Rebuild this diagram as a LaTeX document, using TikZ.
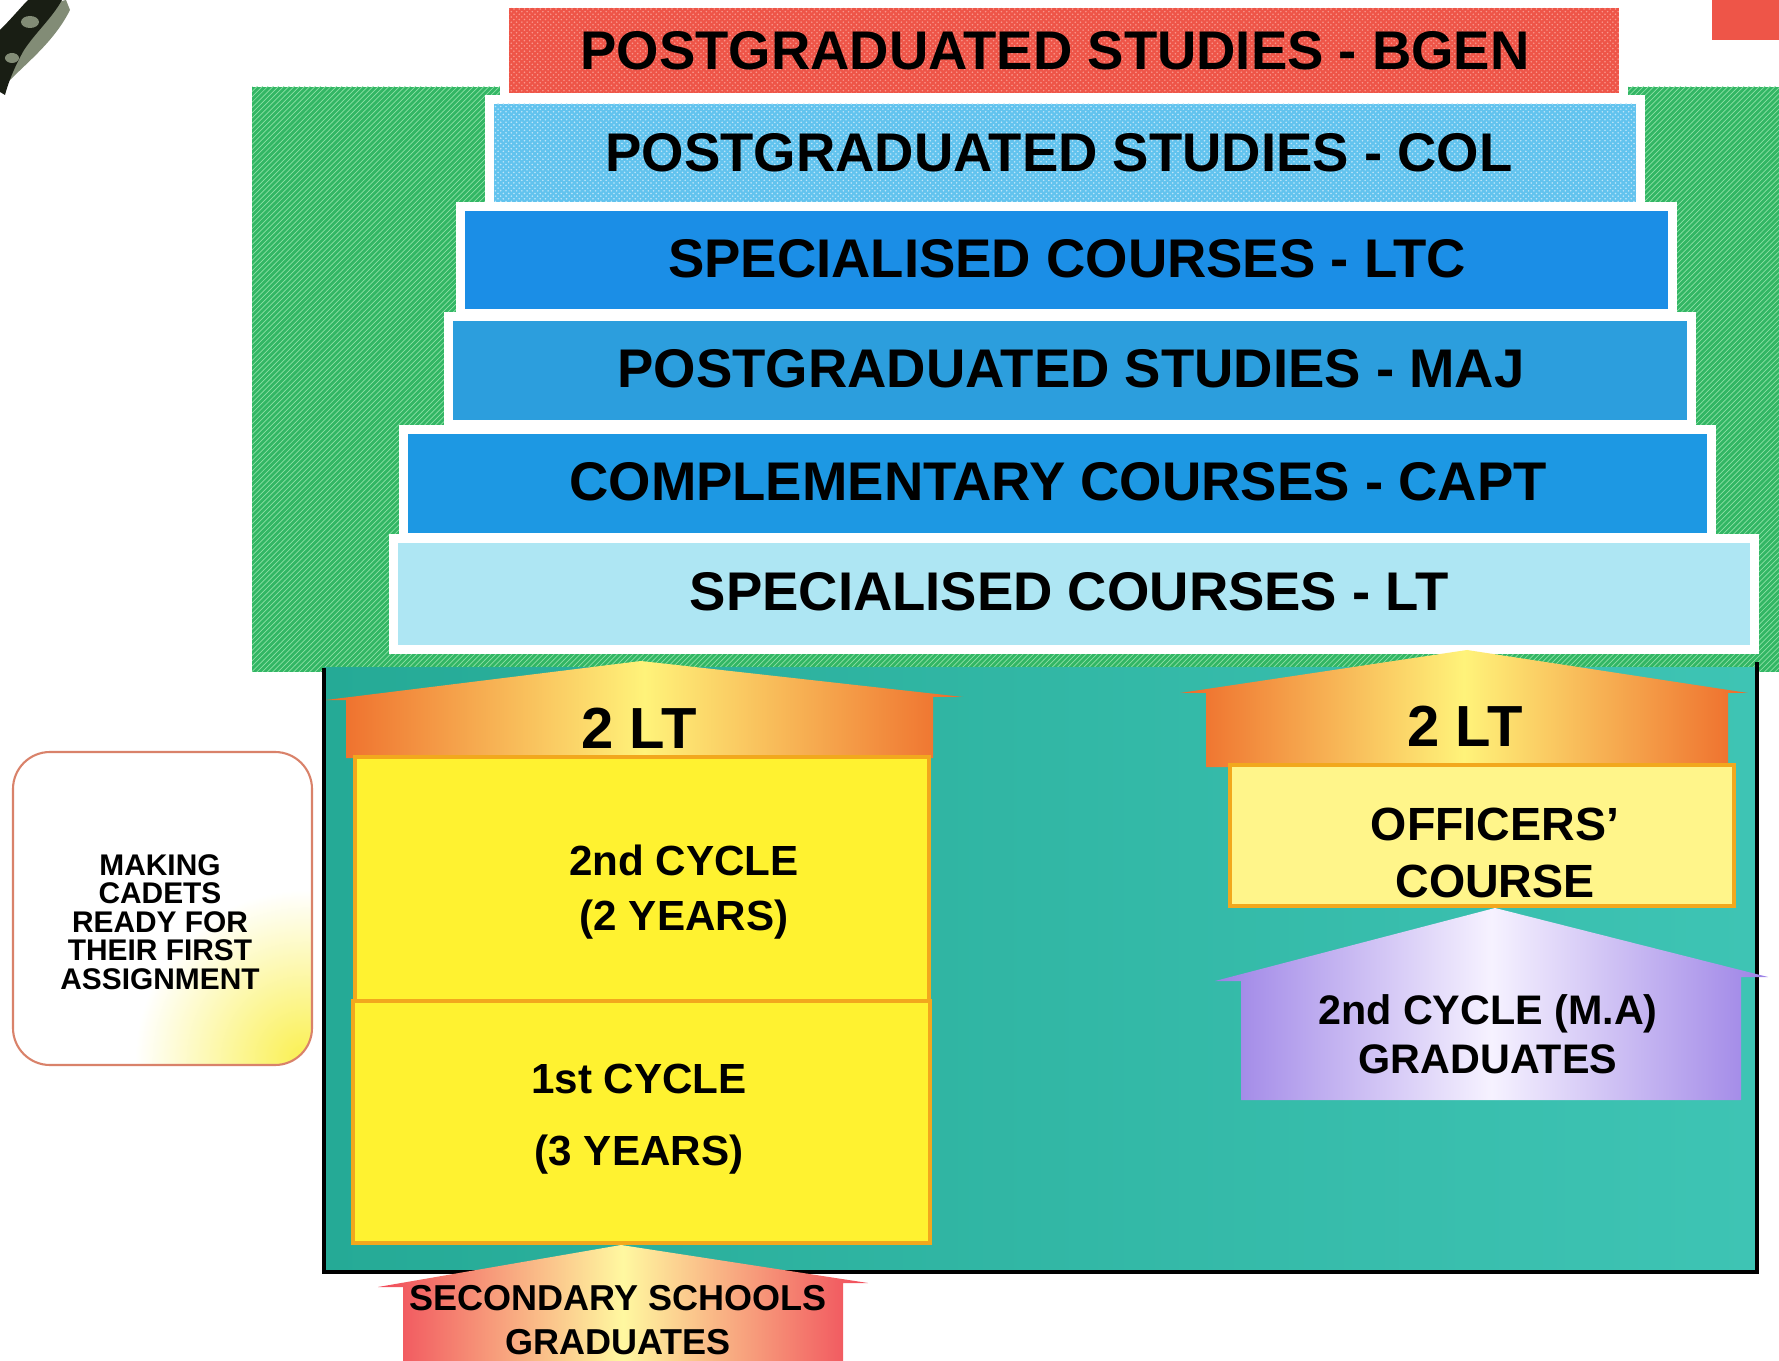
\documentclass[tikz,border=0pt]{standalone}
\usepackage{fontspec}
\setmainfont{Liberation Sans}
\usetikzlibrary{patterns}

\definecolor{bgenred}{RGB}{238,85,72}
\definecolor{bgendot}{RGB}{250,150,140}
\definecolor{colblue}{RGB}{98,195,238}
\definecolor{coldot}{RGB}{190,230,250}
\definecolor{ltcblue}{RGB}{27,142,230}
\definecolor{majblue}{RGB}{44,158,221}
\definecolor{captblue}{RGB}{29,152,227}
\definecolor{ltblue}{RGB}{174,230,243}
\definecolor{hatchgreen}{RGB}{50,182,100}
\definecolor{stripegreen}{RGB}{140,225,165}
\definecolor{tealleft}{RGB}{37,170,150}
\definecolor{tealright}{RGB}{62,196,180}
\definecolor{cycleyellow}{RGB}{255,242,48}
\definecolor{cycleborder}{RGB}{242,168,29}
\definecolor{houseorange}{RGB}{238,106,42}
\definecolor{houseyellow}{RGB}{255,243,122}
\definecolor{officeryellow}{RGB}{255,245,138}
\definecolor{gradpurple}{RGB}{156,130,230}
\definecolor{gradwhite}{RGB}{246,242,255}
\definecolor{schoolpink}{RGB}{240,74,90}
\definecolor{schoolyellow}{RGB}{255,248,160}
\definecolor{aimborder}{RGB}{217,130,106}
\definecolor{aimyellow}{RGB}{250,240,80}
\definecolor{plantdark}{RGB}{25,30,20}
\definecolor{plantgrey}{RGB}{130,140,118}

\begin{document}
\begin{tikzpicture}[x=0.02cm, y=-0.02cm,
  barframe/.style={preaction={draw=white, line width=10pt}},
  bartext/.style={font=\fontsize{31}{36}\selectfont\bfseries},
  ranktext/.style={font=\fontsize{33}{38}\selectfont\bfseries},
  cyclebox/.style={fill=cycleyellow, draw=cycleborder, line width=2.5pt},
  cycletext/.style={align=center, font=\fontsize{24}{31}\selectfont\bfseries},
  officerbox/.style={fill=officeryellow, draw=cycleborder, line width=2.5pt},
  officertext/.style={align=center, font=\fontsize{26.5}{32.3}\selectfont\bfseries},
  gradtext/.style={align=center, font=\fontsize{23.5}{27.8}\selectfont\bfseries},
  schooltext/.style={align=center, font=\fontsize{20.5}{25.5}\selectfont\bfseries},
  aimbox/.style={draw=aimborder, line width=1.2pt, rounded corners=0.74cm},
  aimtext/.style={align=center, font=\fontsize{17}{16.3}\selectfont\bfseries}]
\tikzstyle{every node}+=[inner sep=0pt]
\useasboundingbox (0,0) rectangle (1779,1361);

% corner fragments
\fill[plantgrey] (2,60) .. controls (20,30) and (40,5) .. (66,0) -- (70,10) .. controls (55,40) and (30,60) .. (10,80) -- cycle;
\fill[plantdark] (0,92) -- (0,30) .. controls (12,18) and (22,6) .. (28,0) -- (62,0) .. controls (52,18) and (36,32) .. (24,50) .. controls (16,64) and (9,80) .. (5,95) -- cycle;
\fill[plantgrey] (30,22) ellipse (9 and 6);
\fill[plantgrey] (12,58) ellipse (7 and 5);
\fill[bgenred] (1712,0) rectangle (1779,40);

% hatched background
\path[fill=hatchgreen, postaction={pattern=north east lines, pattern color=stripegreen}] (252,87) rectangle (1779,672);

% rank bars
\path[barframe, fill=bgenred, postaction={pattern=crosshatch dots, pattern color=bgendot}] (509,8) rectangle (1619,93);
\node[bartext] (bgen) at (1055,51) {POSTGRADUATED STUDIES - BGEN};
\path[barframe, fill=colblue, postaction={pattern=crosshatch dots, pattern color=coldot}] (494,104) rectangle (1636,203);
\node[bartext] (col) at (1059,153) {POSTGRADUATED STUDIES - COL};
\path[barframe, fill=ltcblue] (465,211) rectangle (1668,309);
\node[bartext] (ltc) at (1067,259) {SPECIALISED COURSES - LTC};
\path[barframe, fill=majblue] (453,321) rectangle (1687,420);
\node[bartext] (maj) at (1071,369) {POSTGRADUATED STUDIES - MAJ};
\path[barframe, fill=captblue] (408,434) rectangle (1707,533);
\node[bartext] (capt) at (1058,482) {COMPLEMENTARY COURSES - CAPT};
\path[barframe, fill=ltblue] (398,543) rectangle (1750,645);
\node[bartext] (lt) at (1069,592) {SPECIALISED COURSES - LT};

% academy box
\shade[left color=tealleft, right color=tealright] (324,668) rectangle (1757,1272);
\draw[line width=2pt] (324,668) -- (324,1272) -- (1757,1272) -- (1757,662);

% left track
\shade[left color=houseorange, right color=houseorange, middle color=houseyellow] (326,700) -- (641,661) -- (963,697) -- (933,697) -- (933,758) -- (346,758) -- (346,700) -- cycle;
\node[ranktext] (ltleft) at (639,728) {2 LT};
\draw[cyclebox] (355,757) rectangle (929,1001);
\node[cycletext] (second) at (684,892) {2nd CYCLE\\(2 YEARS)};
\draw[cyclebox] (353,1001) rectangle (930,1243);
\node[cycletext, font=\fontsize{24}{41}\selectfont\bfseries] (first) at (639,1119) {1st CYCLE\\(3 YEARS)};

% right track
\shade[left color=houseorange, right color=houseorange, middle color=houseyellow] (1180,693) -- (1467,650) -- (1748,693) -- (1728,693) -- (1728,767) -- (1206,767) -- (1206,693) -- cycle;
\node[ranktext] (ltright) at (1465,726) {2 LT};
\draw[officerbox] (1230,765) rectangle (1734,906);
\node[officertext] (officers) at (1495,853) {OFFICERS'\\COURSE};
\shade[left color=gradpurple, right color=gradpurple, middle color=gradwhite] (1215,981) -- (1495,908) -- (1768,977) -- (1741,977) -- (1741,1100) -- (1241,1100) -- (1241,981) -- cycle;
\node[gradtext] (magrad) at (1488,1034) {2nd CYCLE (M.A)\\GRADUATES};

% entry
\shade[left color=schoolpink, right color=schoolpink, middle color=schoolyellow] (378,1287) -- (621,1245) -- (868,1283) -- (843,1283) -- (843,1361) -- (403,1361) -- (403,1287) -- cycle;
\node[schooltext] (schools) at (618,1320) {SECONDARY SCHOOLS\\GRADUATES};

% aim box
\begin{scope}
\clip[rounded corners=0.74cm] (13,752) rectangle (312,1065);
\fill[white] (13,752) rectangle (312,1065);
\shade[inner color=aimyellow, outer color=white] (305,1060) circle (170);
\end{scope}
\draw[aimbox] (13,752) rectangle (312,1065);
\node[aimtext] (aim) at (160,922) {MAKING\\CADETS\\READY FOR\\THEIR FIRST\\ASSIGNMENT};
\end{tikzpicture}
\end{document}
